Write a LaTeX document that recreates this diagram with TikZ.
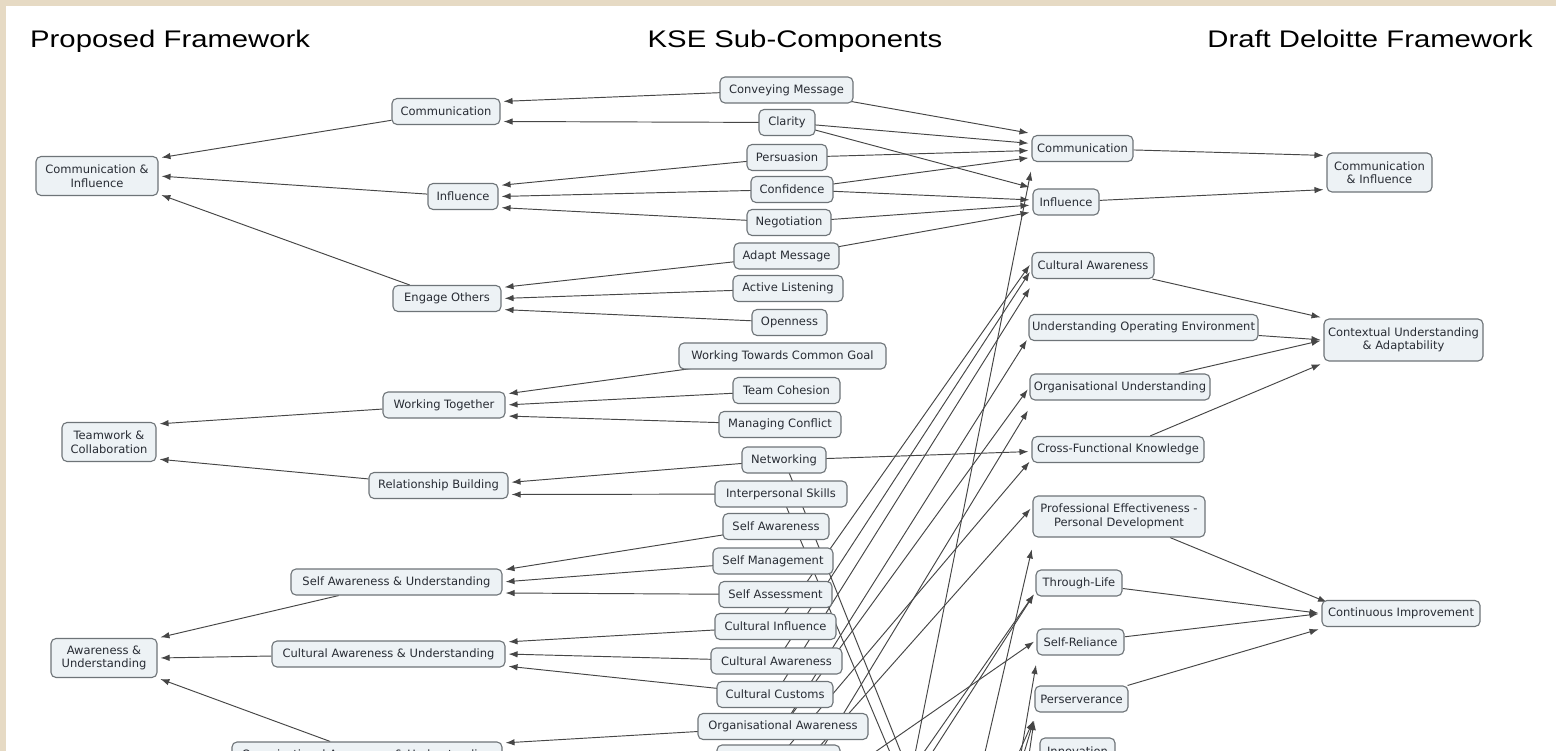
\documentclass[tikz,border=0pt]{standalone}
\usepackage{fontspec}
\setmainfont{DejaVu Sans}
\newfontfamily\titlefont{Liberation Sans}
\usetikzlibrary{arrows.meta}

\definecolor{framebeige}{RGB}{230,218,196}
\definecolor{boxfill}{RGB}{237,242,245}
\definecolor{boxline}{RGB}{110,116,120}
\definecolor{boxtext}{RGB}{40,44,52}
\definecolor{linkgray}{RGB}{70,70,70}

\pgfdeclarelayer{frame}
\pgfdeclarelayer{links}
\pgfsetlayers{frame,links,main}

\begin{document}
\begin{tikzpicture}[
	% one unit is one pixel of the map, y runs downwards
	x=1pt, y=-1pt
	]
	% Define custom styles to make the code cleaner and more reusable.
	\tikzset{
		concept/.style={draw=boxline, fill=boxfill, rounded corners=5pt, line width=1.1pt, text=boxtext, font=\fontsize{11.5}{13.5}\selectfont, align=center, minimum height=26pt, inner xsep=3pt, inner ysep=3pt},
		twoline/.style={concept, minimum height=39pt},
		link/.style={-{Latex[length=9pt,width=6.5pt]}, draw=linkgray, line width=0.95pt, shorten >=3pt},
		heading/.style={font=\titlefont\fontsize{24}{28}\selectfont, inner sep=0pt}
	}
	
	\useasboundingbox (0,0) rectangle (1556,751);
	\clip (0,0) rectangle (1556,751);
	
	\begin{pgfonlayer}{frame}
		\fill[framebeige] (0,0) rectangle (1556,751);
		\fill[white] (6,6) rectangle (1556,751);
	\end{pgfonlayer}
	
	% === HEADINGS ===
	\node[heading, anchor=base west] (tprop) at (30,48) {\scalebox{1.22}[1]{Proposed Framework}};
	\node[heading, anchor=base] (tkse) at (795,48) {\scalebox{1.22}[1]{KSE Sub-Components}};
	\node[heading, anchor=base east] (tdel) at (1533,48) {\scalebox{1.22}[1]{Draft Deloitte Framework}};
	
	% === PROPOSED FRAMEWORK ===
	\node[twoline, minimum width=122] (ci) at (97,176) {Communication \&\\Influence};
	\node[twoline, minimum width=94] (tc) at (109,442) {Teamwork \&\\Collaboration};
	\node[twoline, minimum width=106] (au) at (104,658) {Awareness \&\\Understanding};
	
	\node[concept, minimum width=108] (comm) at (446,111.5) {Communication};
	\node[concept, minimum width=70] (infl) at (463,196.5) {Influence};
	\node[concept, minimum width=108] (engage) at (447,298.5) {Engage Others};
	\node[concept, minimum width=122] (worktog) at (444,405) {Working Together};
	\node[concept, minimum width=139] (relbuild) at (438.5,485.5) {Relationship Building};
	\node[concept, minimum width=211] (selfau) at (396.5,582) {Self Awareness \& Understanding};
	\node[concept, minimum width=233] (cultau) at (388.5,654) {Cultural Awareness \& Understanding};
	\node[concept, minimum width=270] (orgau) at (367,755) {Organisational Awareness \& Understanding};
	
	% === KSE SUB-COMPONENTS ===
	\node[concept, minimum width=133] (convey) at (786.5,90) {Conveying Message};
	\node[concept, minimum width=56] (clarity) at (787,122.5) {Clarity};
	\node[concept, minimum width=80] (persuade) at (787,157.5) {Persuasion};
	\node[concept, minimum width=82] (confid) at (792,189.5) {Confidence};
	\node[concept, minimum width=84] (negot) at (789,222.5) {Negotiation};
	\node[concept, minimum width=105] (adapt) at (786.5,256) {Adapt Message};
	\node[concept, minimum width=110] (listen) at (788,288.5) {Active Listening};
	\node[concept, minimum width=75] (open) at (789.5,322.5) {Openness};
	\node[concept, minimum width=207] (goal) at (782.5,356) {Working Towards Common Goal};
	\node[concept, minimum width=107] (cohesion) at (786.5,390.5) {Team Cohesion};
	\node[concept, minimum width=122] (conflict) at (780,424.5) {Managing Conflict};
	\node[concept, minimum width=84] (network) at (784,460) {Networking};
	\node[concept, minimum width=132] (interp) at (781,494) {Interpersonal Skills};
	\node[concept, minimum width=106] (selfaw) at (776,526.5) {Self Awareness};
	\node[concept, minimum width=120] (selfman) at (773,561) {Self Management};
	\node[concept, minimum width=113] (selfass) at (775.5,594.5) {Self Assessment};
	\node[concept, minimum width=121] (cultinf) at (775.5,626.5) {Cultural Influence};
	\node[concept, minimum width=131] (cultaw) at (776.5,661) {Cultural Awareness};
	\node[concept, minimum width=116] (cultcus) at (775,694.5) {Cultural Customs};
	\node[concept, minimum width=170] (orgaw) at (783,726.5) {Organisational Awareness};
	\node[concept, minimum width=123] (ksebot) at (778.5,758) {};
	
	% === DRAFT DELOITTE FRAMEWORK ===
	\node[concept, minimum width=101] (dcomm) at (1082.5,148.5) {Communication};
	\node[concept, minimum width=66] (dinfl) at (1066,202) {Influence};
	\node[concept, minimum width=122] (dcult) at (1093,265.5) {Cultural Awareness};
	\node[concept, minimum width=229] (dopenv) at (1143.5,327.5) {Understanding Operating Environment};
	\node[concept, minimum width=180] (dorgund) at (1120,387) {Organisational Understanding};
	\node[concept, minimum width=172] (dcross) at (1118,449.5) {Cross-Functional Knowledge};
	\node[twoline, minimum width=172, minimum height=41] (dprof) at (1119,516.5) {Professional Effectiveness -\\Personal Development};
	\node[concept, minimum width=86] (dlife) at (1079,583) {Through-Life};
	\node[concept, minimum width=87] (dself) at (1080.5,642) {Self-Reliance};
	\node[concept, minimum width=93] (dpers) at (1081.5,699) {Perserverance};
	\node[concept, minimum width=75] (dinnov) at (1077.5,751) {Innovation};
	
	\node[twoline, minimum width=105] (dci) at (1379.5,172.5) {Communication\\\& Influence};
	\node[twoline, minimum width=159, minimum height=42] (dcua) at (1403.5,340) {Contextual Understanding\\\& Adaptability};
	\node[concept, minimum width=158] (dcont) at (1401,613.5) {Continuous Improvement};
	
	% free ends of links whose concepts lie below the visible part
	\coordinate (offA) at (880,930);
	\coordinate (offB) at (944,930);
	\coordinate (offC) at (991,930);
	\coordinate (offD1) at (939,930);
	\coordinate (offD2) at (971,930);
	\coordinate (offD3) at (1003,930);
	\coordinate (offE1) at (800,930);
	\coordinate (offE2) at (818,930);
	\coordinate (offF) at (780,818);
	\coordinate (offH) at (780,791);
	\coordinate (offJ) at (1100,1250);
	
	% === CONNECTIONS ===
	\begin{pgfonlayer}{links}
		\clip (0,0) rectangle (1556,751);
		% KSE sub-components to proposed framework
		\draw[link] (convey.center) -- ([yshift=10pt]comm.east);
		\draw[link] (clarity.center) -- ([yshift=-10pt]comm.east);
		\draw[link] (persuade.center) -- ([yshift=11pt]infl.east);
		\draw[link] (confid.center) -- (infl.east);
		\draw[link] (negot.center) -- ([yshift=-11pt]infl.east);
		\draw[link] (adapt.center) -- ([yshift=11pt]engage.east);
		\draw[link] (listen.center) -- (engage.east);
		\draw[link] (open.center) -- ([yshift=-11pt]engage.east);
		\draw[link] (goal.center) -- ([yshift=11pt]worktog.east);
		\draw[link] (cohesion.center) -- (worktog.east);
		\draw[link] (conflict.center) -- ([yshift=-11pt]worktog.east);
		\draw[link] (network.center) -- ([yshift=3pt]relbuild.east);
		\draw[link] (interp.center) -- ([yshift=-9pt]relbuild.east);
		\draw[link] (selfaw.center) -- ([yshift=12pt]selfau.east);
		\draw[link] (selfman.center) -- (selfau.east);
		\draw[link] (selfass.center) -- ([yshift=-11pt]selfau.east);
		\draw[link] (cultinf.center) -- ([yshift=12pt]cultau.east);
		\draw[link] (cultaw.center) -- (cultau.east);
		\draw[link] (cultcus.center) -- ([yshift=-12pt]cultau.east);
		\draw[link] (orgaw.center) -- ([yshift=12pt]orgau.east);
		
		\draw[link] (comm) -- ([yshift=18pt]ci.east);
		\draw[link] (infl) -- (ci.east);
		\draw[link] (engage) -- ([yshift=-18pt]ci.east);
		\draw[link] (worktog) -- ([yshift=18pt]tc.east);
		\draw[link] (relbuild) -- ([yshift=-17pt]tc.east);
		\draw[link] (selfau) -- ([yshift=20pt]au.east);
		\draw[link] (cultau) -- (au.east);
		\draw[link] (orgau) -- ([yshift=-20pt]au.east);
		
		% KSE sub-components to draft framework
		\draw[link] (convey.center) -- ([yshift=15pt]dcomm.west);
		\draw[link] (clarity.center) -- ([yshift=5pt]dcomm.west);
		\draw[link] (persuade.center) -- ([yshift=-2pt]dcomm.west);
		\draw[link] (confid.center) -- ([yshift=-9pt]dcomm.west);
		\draw[link] (clarity.center) -- ([yshift=14pt]dinfl.west);
		\draw[link] (confid.center) -- ([yshift=2pt]dinfl.west);
		\draw[link] (negot.center) -- ([yshift=-3pt]dinfl.west);
		\draw[link] (adapt.center) -- ([yshift=-10pt]dinfl.west);
		\draw[link] (cultinf.center) -- ([yshift=3pt]dcult.west);
		\draw[link] (cultaw.center) -- ([yshift=-4pt]dcult.west);
		\draw[link] (cultcus.center) -- ([yshift=-20pt]dcult.west);
		\draw[link] (orgaw.center) -- ([yshift=-10pt]dopenv.west);
		\draw[link] (orgaw.center) -- (dorgund.west);
		\draw[link] (offF) -- ([yshift=-21pt]dorgund.west);
		\draw[link] (network.center) -- ([yshift=-2pt]dcross.west);
		\draw[link] (ksebot.center) -- ([yshift=-10pt]dcross.west);
		\draw[link] (offH) -- ([yshift=10pt]dprof.west);
		\draw[link] (offB) -- ([yshift=-30pt]dprof.west);
		\draw[link] (offE1) -- ([yshift=-9pt]dlife.west);
		\draw[link] (offE2) -- ([yshift=-9pt]dlife.west);
		\draw[link] (offF) -- ([yshift=2pt]dself.west);
		\draw[link] (offC) -- ([yshift=-20pt]dself.west);
		\draw[link] (offD1) -- ([yshift=-19pt]dpers.west);
		\draw[link] (offD2) -- ([yshift=-19pt]dpers.west);
		\draw[link] (offD3) -- ([yshift=-19pt]dpers.west);
		\draw[link] (offA) -- ([yshift=-20pt]dcomm.west);
		\draw[link, -] (network.center) -- (offJ);
		\draw[link, -] (interp.center) -- (offJ);
		
		% draft framework, first to second level
		\draw[link] (dcomm) -- ([yshift=17pt]dci.west);
		\draw[link] (dinfl) -- ([yshift=-17pt]dci.west);
		\draw[link] (dcult) -- ([yshift=22pt]dcua.west);
		\draw[link] (dopenv) -- (dcua.west);
		\draw[link] (dorgund) -- (dcua.west);
		\draw[link] (dcross) -- ([yshift=-23pt]dcua.west);
		\draw[link, shorten >=-6pt] (dprof) -- (dcont.north west);
		\draw[link] (dlife) -- (dcont.west);
		\draw[link] (dself) -- (dcont.west);
		\draw[link] (dpers) -- ([yshift=-15pt]dcont.west);
	\end{pgfonlayer}
\end{tikzpicture}
\end{document}
